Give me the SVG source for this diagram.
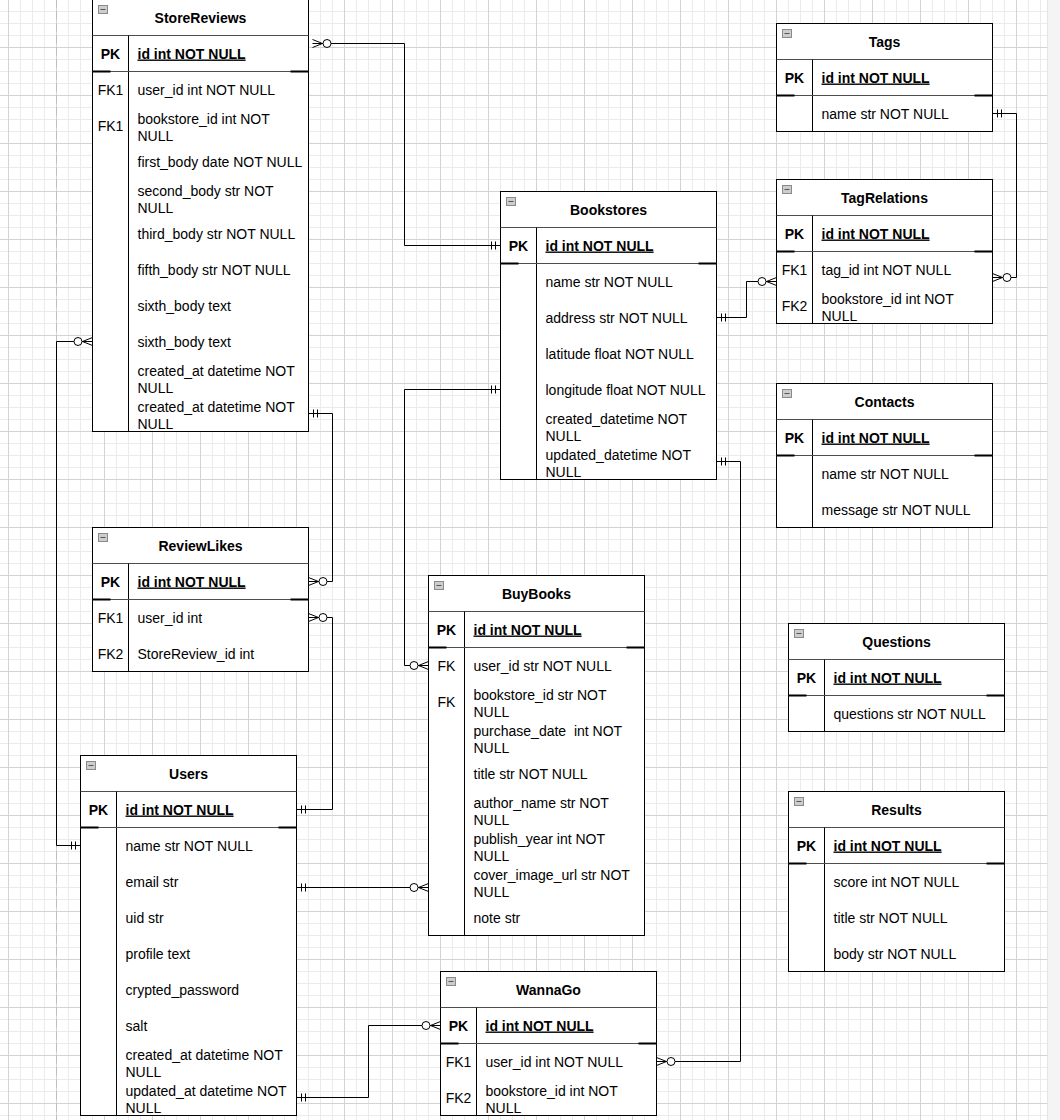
<svg xmlns="http://www.w3.org/2000/svg" width="1060" height="1120" viewBox="0 0 1060 1120">
<style>
.t{font-family:"Liberation Sans",Arial,Helvetica,sans-serif;font-size:14px;fill:#000}
.b{font-weight:bold}
.c{text-anchor:middle}
.u{text-decoration:underline}
.box{fill:#fff;stroke:#000;stroke-width:1}
.sep{stroke:#4d4d4d;stroke-width:1;fill:none}
.col{stroke:#000;stroke-width:1;fill:none}
.pk{stroke:#000;stroke-width:2;fill:none}
.ico{fill:#cdcdcd;stroke:#8a8a8a;stroke-width:1}
.icl{stroke:#555;stroke-width:1}
.edge{fill:none;stroke:#000;stroke-width:1}
</style>
<defs>
<pattern id="grid" width="48" height="48" patternUnits="userSpaceOnUse" x="8" y="-1">
<path d="M12.5,0V48M24.5,0V48M36.5,0V48M0,12.5H48M0,24.5H48M0,36.5H48" stroke="#ebebeb" stroke-width="1" fill="none"/>
<path d="M0.5,0V48M0,0.5H48" stroke="#d3d3d3" stroke-width="1" fill="none"/>
</pattern>
<marker id="zm" markerUnits="userSpaceOnUse" orient="auto-start-reverse" overflow="visible" refX="0" refY="0" markerWidth="1" markerHeight="1">
<path d="M0,-4L-10,0L0,4" fill="none" stroke="#000" stroke-width="1"/>
<circle cx="-14.5" cy="0" r="4" fill="#fff" stroke="#000" stroke-width="1"/>
</marker>
<marker id="m1" markerUnits="userSpaceOnUse" orient="auto-start-reverse" overflow="visible" refX="0" refY="0" markerWidth="1" markerHeight="1">
<path d="M-5,-4V4M-9,-4V4" fill="none" stroke="#000" stroke-width="1"/>
</marker>
</defs>
<rect x="0" y="0" width="1060" height="1120" fill="#fff"/>
<rect x="0" y="0" width="1047" height="1120" fill="url(#grid)"/>
<rect x="1047" y="0" width="13" height="1120" fill="#f4f4f4"/>
<line x1="1047.5" y1="0" x2="1047.5" y2="1120" stroke="#e4e4e4"/>
<g transform="translate(0.5,-0.5)">
<line x1="56" y1="0" x2="56" y2="1121" stroke="#bdbdbd" stroke-dasharray="8 4"/>

<g id="StoreReviews">
<rect class="box" x="92" y="0" width="216" height="432"/>
<rect class="ico" x="98" y="6" width="9" height="8"/><line class="icl" x1="100" y1="10" x2="105" y2="10"/>
<line class="sep" x1="92" y1="36" x2="308" y2="36"/>
<line class="col" x1="128" y1="36" x2="128" y2="432"/>
<line class="sep" x1="92" y1="72" x2="308" y2="72"/>
<path class="pk" d="M92,72H110M290,72H308"/>
<text class="t b c" x="200" y="23">StoreReviews</text>
<text class="t b c" x="110" y="59">PK</text>
<text class="t b u" x="137" y="59">id int NOT NULL</text>
<text class="t c" x="110" y="95">FK1</text>
<text class="t" x="137" y="95">user_id int NOT NULL</text>
<text class="t c" x="110" y="131">FK1</text>
<text class="t" x="137" y="124">bookstore_id int NOT</text>
<text class="t" x="137" y="141">NULL</text>
<text class="t" x="137" y="167">first_body date NOT NULL</text>
<text class="t" x="137" y="196">second_body str NOT</text>
<text class="t" x="137" y="213">NULL</text>
<text class="t" x="137" y="239">third_body str NOT NULL</text>
<text class="t" x="137" y="275">fifth_body str NOT NULL</text>
<text class="t" x="137" y="311">sixth_body text</text>
<text class="t" x="137" y="347">sixth_body text</text>
<text class="t" x="137" y="376">created_at datetime NOT</text>
<text class="t" x="137" y="393">NULL</text>
<text class="t" x="137" y="412">created_at datetime NOT</text>
<text class="t" x="137" y="429">NULL</text>
</g>

<g id="Bookstores">
<rect class="box" x="500" y="192" width="216" height="288"/>
<rect class="ico" x="506" y="198" width="9" height="8"/><line class="icl" x1="508" y1="202" x2="513" y2="202"/>
<line class="sep" x1="500" y1="228" x2="716" y2="228"/>
<line class="col" x1="536" y1="228" x2="536" y2="480"/>
<line class="sep" x1="500" y1="264" x2="716" y2="264"/>
<path class="pk" d="M500,264H518M698,264H716"/>
<text class="t b c" x="608" y="215">Bookstores</text>
<text class="t b c" x="518" y="251">PK</text>
<text class="t b u" x="545" y="251">id int NOT NULL</text>
<text class="t" x="545" y="287">name str NOT NULL</text>
<text class="t" x="545" y="323">address str NOT NULL</text>
<text class="t" x="545" y="359">latitude float NOT NULL</text>
<text class="t" x="545" y="395">longitude float NOT NULL</text>
<text class="t" x="545" y="424">created_datetime NOT</text>
<text class="t" x="545" y="441">NULL</text>
<text class="t" x="545" y="460">updated_datetime NOT</text>
<text class="t" x="545" y="477">NULL</text>
</g>

<g id="Tags">
<rect class="box" x="776" y="24" width="216" height="108"/>
<rect class="ico" x="782" y="30" width="9" height="8"/><line class="icl" x1="784" y1="34" x2="789" y2="34"/>
<line class="sep" x1="776" y1="60" x2="992" y2="60"/>
<line class="col" x1="812" y1="60" x2="812" y2="132"/>
<line class="sep" x1="776" y1="96" x2="992" y2="96"/>
<path class="pk" d="M776,96H794M974,96H992"/>
<text class="t b c" x="884" y="47">Tags</text>
<text class="t b c" x="794" y="83">PK</text>
<text class="t b u" x="821" y="83">id int NOT NULL</text>
<text class="t" x="821" y="119">name str NOT NULL</text>
</g>

<g id="TagRelations">
<rect class="box" x="776" y="180" width="216" height="144"/>
<rect class="ico" x="782" y="186" width="9" height="8"/><line class="icl" x1="784" y1="190" x2="789" y2="190"/>
<line class="sep" x1="776" y1="216" x2="992" y2="216"/>
<line class="col" x1="812" y1="216" x2="812" y2="324"/>
<line class="sep" x1="776" y1="252" x2="992" y2="252"/>
<path class="pk" d="M776,252H794M974,252H992"/>
<text class="t b c" x="884" y="203">TagRelations</text>
<text class="t b c" x="794" y="239">PK</text>
<text class="t b u" x="821" y="239">id int NOT NULL</text>
<text class="t c" x="794" y="275">FK1</text>
<text class="t" x="821" y="275">tag_id int NOT NULL</text>
<text class="t c" x="794" y="311">FK2</text>
<text class="t" x="821" y="304">bookstore_id int NOT</text>
<text class="t" x="821" y="321">NULL</text>
</g>

<g id="Contacts">
<rect class="box" x="776" y="384" width="216" height="144"/>
<rect class="ico" x="782" y="390" width="9" height="8"/><line class="icl" x1="784" y1="394" x2="789" y2="394"/>
<line class="sep" x1="776" y1="420" x2="992" y2="420"/>
<line class="col" x1="812" y1="420" x2="812" y2="528"/>
<line class="sep" x1="776" y1="456" x2="992" y2="456"/>
<path class="pk" d="M776,456H794M974,456H992"/>
<text class="t b c" x="884" y="407">Contacts</text>
<text class="t b c" x="794" y="443">PK</text>
<text class="t b u" x="821" y="443">id int NOT NULL</text>
<text class="t" x="821" y="479">name str NOT NULL</text>
<text class="t" x="821" y="515">message str NOT NULL</text>
</g>

<g id="Questions">
<rect class="box" x="788" y="624" width="216" height="108"/>
<rect class="ico" x="794" y="630" width="9" height="8"/><line class="icl" x1="796" y1="634" x2="801" y2="634"/>
<line class="sep" x1="788" y1="660" x2="1004" y2="660"/>
<line class="col" x1="824" y1="660" x2="824" y2="732"/>
<line class="sep" x1="788" y1="696" x2="1004" y2="696"/>
<path class="pk" d="M788,696H806M986,696H1004"/>
<text class="t b c" x="896" y="647">Questions</text>
<text class="t b c" x="806" y="683">PK</text>
<text class="t b u" x="833" y="683">id int NOT NULL</text>
<text class="t" x="833" y="719">questions str NOT NULL</text>
</g>

<g id="Results">
<rect class="box" x="788" y="792" width="216" height="180"/>
<rect class="ico" x="794" y="798" width="9" height="8"/><line class="icl" x1="796" y1="802" x2="801" y2="802"/>
<line class="sep" x1="788" y1="828" x2="1004" y2="828"/>
<line class="col" x1="824" y1="828" x2="824" y2="972"/>
<line class="sep" x1="788" y1="864" x2="1004" y2="864"/>
<path class="pk" d="M788,864H806M986,864H1004"/>
<text class="t b c" x="896" y="815">Results</text>
<text class="t b c" x="806" y="851">PK</text>
<text class="t b u" x="833" y="851">id int NOT NULL</text>
<text class="t" x="833" y="887">score int NOT NULL</text>
<text class="t" x="833" y="923">title str NOT NULL</text>
<text class="t" x="833" y="959">body str NOT NULL</text>
</g>

<g id="ReviewLikes">
<rect class="box" x="92" y="528" width="216" height="144"/>
<rect class="ico" x="98" y="534" width="9" height="8"/><line class="icl" x1="100" y1="538" x2="105" y2="538"/>
<line class="sep" x1="92" y1="564" x2="308" y2="564"/>
<line class="col" x1="128" y1="564" x2="128" y2="672"/>
<line class="sep" x1="92" y1="600" x2="308" y2="600"/>
<path class="pk" d="M92,600H110M290,600H308"/>
<text class="t b c" x="200" y="551">ReviewLikes</text>
<text class="t b c" x="110" y="587">PK</text>
<text class="t b u" x="137" y="587">id int NOT NULL</text>
<text class="t c" x="110" y="623">FK1</text>
<text class="t" x="137" y="623">user_id int</text>
<text class="t c" x="110" y="659">FK2</text>
<text class="t" x="137" y="659">StoreReview_id int</text>
</g>

<g id="Users">
<rect class="box" x="80" y="756" width="216" height="360"/>
<rect class="ico" x="86" y="762" width="9" height="8"/><line class="icl" x1="88" y1="766" x2="93" y2="766"/>
<line class="sep" x1="80" y1="792" x2="296" y2="792"/>
<line class="col" x1="116" y1="792" x2="116" y2="1116"/>
<line class="sep" x1="80" y1="828" x2="296" y2="828"/>
<path class="pk" d="M80,828H98M278,828H296"/>
<text class="t b c" x="188" y="779">Users</text>
<text class="t b c" x="98" y="815">PK</text>
<text class="t b u" x="125" y="815">id int NOT NULL</text>
<text class="t" x="125" y="851">name str NOT NULL</text>
<text class="t" x="125" y="887">email str</text>
<text class="t" x="125" y="923">uid str</text>
<text class="t" x="125" y="959">profile text</text>
<text class="t" x="125" y="995">crypted_password</text>
<text class="t" x="125" y="1031">salt</text>
<text class="t" x="125" y="1060">created_at datetime NOT</text>
<text class="t" x="125" y="1077">NULL</text>
<text class="t" x="125" y="1096">updated_at datetime NOT</text>
<text class="t" x="125" y="1113">NULL</text>
</g>

<g id="BuyBooks">
<rect class="box" x="428" y="576" width="216" height="360"/>
<rect class="ico" x="434" y="582" width="9" height="8"/><line class="icl" x1="436" y1="586" x2="441" y2="586"/>
<line class="sep" x1="428" y1="612" x2="644" y2="612"/>
<line class="col" x1="464" y1="612" x2="464" y2="936"/>
<line class="sep" x1="428" y1="648" x2="644" y2="648"/>
<path class="pk" d="M428,648H446M626,648H644"/>
<text class="t b c" x="536" y="599">BuyBooks</text>
<text class="t b c" x="446" y="635">PK</text>
<text class="t b u" x="473" y="635">id int NOT NULL</text>
<text class="t c" x="446" y="671">FK</text>
<text class="t" x="473" y="671">user_id str NOT NULL</text>
<text class="t c" x="446" y="707">FK</text>
<text class="t" x="473" y="700">bookstore_id str NOT</text>
<text class="t" x="473" y="717">NULL</text>
<text class="t" x="473" y="736" style="white-space:pre">purchase_date  int NOT</text>
<text class="t" x="473" y="753">NULL</text>
<text class="t" x="473" y="779">title str NOT NULL</text>
<text class="t" x="473" y="808">author_name str NOT</text>
<text class="t" x="473" y="825">NULL</text>
<text class="t" x="473" y="844">publish_year int NOT</text>
<text class="t" x="473" y="861">NULL</text>
<text class="t" x="473" y="880">cover_image_url str NOT</text>
<text class="t" x="473" y="897">NULL</text>
<text class="t" x="473" y="923">note str</text>
</g>

<g id="WannaGo">
<rect class="box" x="440" y="972" width="216" height="144"/>
<rect class="ico" x="446" y="978" width="9" height="8"/><line class="icl" x1="448" y1="982" x2="453" y2="982"/>
<line class="sep" x1="440" y1="1008" x2="656" y2="1008"/>
<line class="col" x1="476" y1="1008" x2="476" y2="1116"/>
<line class="sep" x1="440" y1="1044" x2="656" y2="1044"/>
<path class="pk" d="M440,1044H458M638,1044H656"/>
<text class="t b c" x="548" y="995">WannaGo</text>
<text class="t b c" x="458" y="1031">PK</text>
<text class="t b u" x="485" y="1031">id int NOT NULL</text>
<text class="t c" x="458" y="1067">FK1</text>
<text class="t" x="485" y="1067">user_id int NOT NULL</text>
<text class="t c" x="458" y="1103">FK2</text>
<text class="t" x="485" y="1096">bookstore_id int NOT</text>
<text class="t" x="485" y="1113">NULL</text>
</g>

<g id="connectors">
<path class="edge" d="M312,44H404V246H500" marker-start="url(#zm)" marker-end="url(#m1)"/>
<path class="edge" d="M992,114H1016V278H992" marker-start="url(#m1)" marker-end="url(#zm)"/>
<path class="edge" d="M716,318H746V282H776" marker-start="url(#m1)" marker-end="url(#zm)"/>
<path class="edge" d="M92,342H56V846H80" marker-start="url(#zm)" marker-end="url(#m1)"/>
<path class="edge" d="M308,414H332V582H308" marker-start="url(#m1)" marker-end="url(#zm)"/>
<path class="edge" d="M308,618H332V810H296" marker-start="url(#zm)" marker-end="url(#m1)"/>
<path class="edge" d="M500,390H404V666H428" marker-start="url(#m1)" marker-end="url(#zm)"/>
<path class="edge" d="M296,888H428" marker-start="url(#m1)" marker-end="url(#zm)"/>
<path class="edge" d="M296,1098H368V1026H440" marker-start="url(#m1)" marker-end="url(#zm)"/>
<path class="edge" d="M656,1062H740V462H716" marker-start="url(#zm)" marker-end="url(#m1)"/>
</g>
</g>
</svg>
